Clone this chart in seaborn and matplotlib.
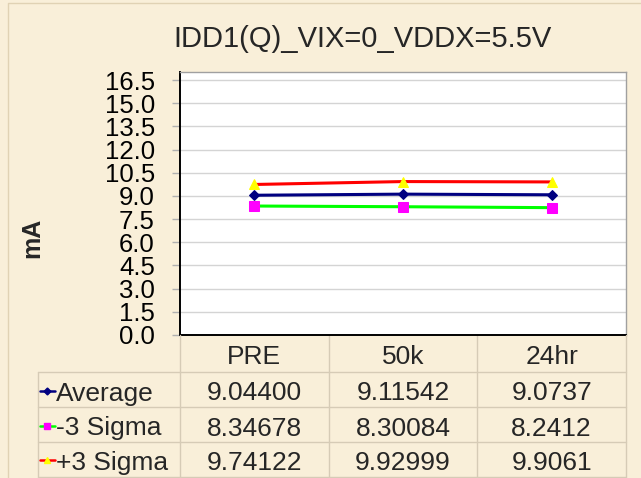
import numpy as np
import pandas as pd
import matplotlib
matplotlib.use("Agg")
import matplotlib.pyplot as plt
import matplotlib.transforms as mtransforms
from matplotlib.lines import Line2D
import seaborn as sns

# chart data (as printed in the data table)
categories = ["PRE", "50k", "24hr"]
series_names = ["Average", "-3 Sigma", "+3 Sigma"]
average = ["9.04400", "9.11542", "9.0737"]
minus_3_sigma = ["8.34678", "8.30084", "8.2412"]
plus_3_sigma = ["9.74122", "9.92999", "9.9061"]
y_ticks = [0.0, 1.5, 3.0, 4.5, 6.0, 7.5, 9.0, 10.5, 12.0, 13.5, 15.0, 16.5]
title = "IDD1(Q)_VIX=0_VDDX=5.5V"
y_label = "mA"

# styles: line colour, marker, marker colour, marker size
styles = {
    "Average": ("#000080", "D", "#000080", 5),
    "-3 Sigma": ("#00FF00", "s", "#FF00FF", 7),
    "+3 Sigma": ("#FF0000", "^", "#FFFF00", 7),
}

table_rows = {"Average": average, "-3 Sigma": minus_3_sigma, "+3 Sigma": plus_3_sigma}
df = pd.DataFrame([
    {"category": c, "series": s, "value": float(v)}
    for s in series_names for c, v in zip(categories, table_rows[s])
])

W, H = 641, 478
bg = "#F9EFD9"
grid_col = "#D6CBB6"
fs = 19

sns.set_theme(style="white")
plt.rcParams["font.family"] = ["Liberation Sans", "DejaVu Sans"]

fig = plt.figure(figsize=(W / 100, H / 100), dpi=100, facecolor=bg)
ax = fig.add_axes([180 / W, 1 - 335 / H, 446 / W, 263 / H])
ax.set_facecolor("white")

for s in series_names:
    lc, mk, mc, ms = styles[s]
    sub = df[df["series"] == s]
    sns.lineplot(data=sub, x="category", y="value", ax=ax, color=lc, lw=2.2,
                 marker=mk, markersize=ms, markerfacecolor=mc, markeredgecolor=mc,
                 sort=False, legend=False)

ax.set_xlim(-0.5, len(categories) - 0.5)
ax.set_ylim(0, 17.02)
ax.set_yticks(y_ticks)
ax.set_yticklabels([f"{t:.1f}" for t in y_ticks], fontsize=18.5)
ax.set_xticks([])
ax.set_xlabel("")
ax.set_ylabel("")
ax.yaxis.grid(True, color="#D4D4D4", lw=1)
ax.tick_params(axis="y", left=True, length=6, width=1, color="#B0B0B0", pad=12, labelcolor="black")
for side in ["top", "right"]:
    ax.spines[side].set_color("#A0A0A0")
    ax.spines[side].set_linewidth(1)
for side in ["left", "bottom"]:
    ax.spines[side].set_color("black")
    ax.spines[side].set_linewidth(1.4)

fig.text(363 / W, 1 - 39 / H, title, ha="center", va="center", fontsize=21)
fig.text(32 / W, 1 - 238 / H, y_label, ha="center", va="center", rotation=90,
         fontsize=18, fontweight="bold")

# data table below the plot
tr = mtransforms.blended_transform_factory(ax.transData, fig.transFigure)
row_tops = [372, 407, 442, 477]
for y in row_tops:
    fig.add_artist(Line2D([38 / W, 626 / W], [1 - y / H] * 2, color=grid_col, lw=1))
for x in [180, 626]:
    fig.add_artist(Line2D([x / W] * 2, [1 - 335 / H, 1 - 477 / H], color=grid_col, lw=1))
fig.add_artist(Line2D([38 / W] * 2, [1 - 372 / H, 1 - 477 / H], color=grid_col, lw=1))
for i in range(1, len(categories)):
    ax.add_artist(Line2D([i - 0.5] * 2, [1 - 335 / H, 1 - 477 / H], color=grid_col,
                         lw=1, transform=tr, clip_on=False))

for i, c in enumerate(categories):
    fig.text(i, 1 - 364.5 / H, c, ha="center", va="baseline", fontsize=fs, transform=tr)

baselines = [400.5, 435.5, 470]
for s, yb in zip(series_names, baselines):
    lc, mk, mc, ms = styles[s]
    yk = 1 - (yb - 10) / H
    fig.add_artist(Line2D([40 / W, 47 / W, 55 / W], [yk] * 3, color=lc, lw=1.8,
                          marker=mk, markevery=[1], markersize=ms * 0.7,
                          markerfacecolor=mc, markeredgecolor=mc))
    fig.text(56 / W, 1 - yb / H, s, ha="left", va="baseline", fontsize=fs)
    for i, v in enumerate(table_rows[s]):
        fig.text(i, 1 - yb / H, v, ha="center", va="baseline", fontsize=fs, transform=tr)

# faint outer frame
fig.add_artist(Line2D([8 / W, 8 / W, 1], [0, 1 - 3 / H, 1 - 3 / H], color="#E0D2B4", lw=1))

fig.savefig("out.png", dpi=100, facecolor=bg)
